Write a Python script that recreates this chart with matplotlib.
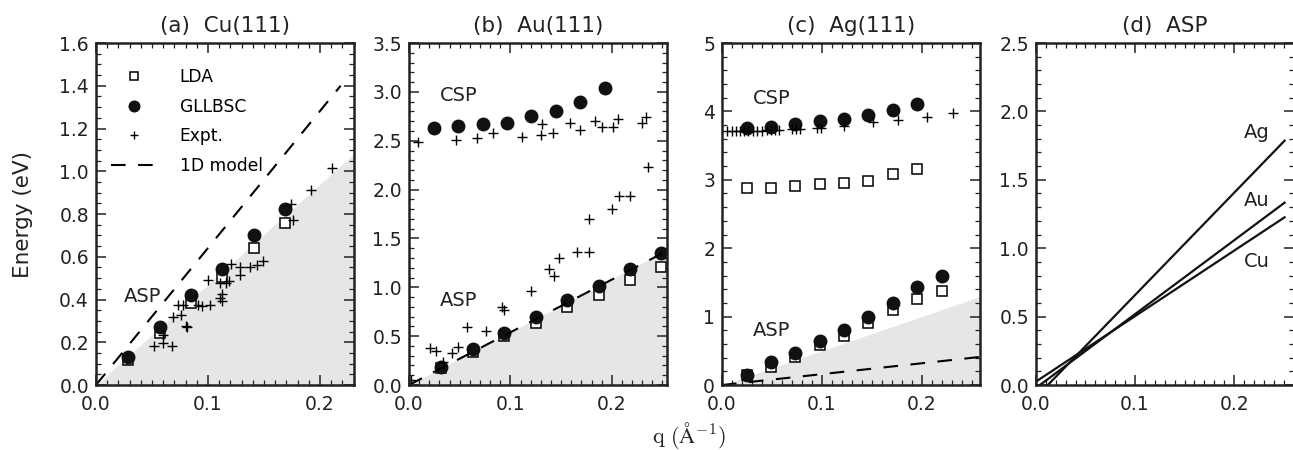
import matplotlib
matplotlib.use('Agg')
from matplotlib import pyplot as plt
from matplotlib.ticker import MultipleLocator
import numpy as np

# ---- (a) Cu(111) ----
CU_Q = [0.029, 0.057, 0.085, 0.113, 0.141, 0.169]
CU_LDA = [0.117, 0.242, 0.382, 0.507, 0.643, 0.760]
CU_GLLBSC = [0.133, 0.273, 0.423, 0.544, 0.702, 0.822]
CU_EXPT_Q = [0.052, 0.0595, 0.068, 0.0595, 0.0685, 0.076, 0.080, 0.081, 0.073, 0.078,
             0.091, 0.095, 0.102, 0.0997, 0.111, 0.1125, 0.113, 0.116, 0.119, 0.111,
             0.121, 0.129, 0.129, 0.1375, 0.1435, 0.149, 0.174, 0.176, 0.192, 0.211]
CU_EXPT_E = [0.182, 0.198, 0.182, 0.234, 0.320, 0.327, 0.276, 0.270, 0.374, 0.374,
             0.374, 0.370, 0.374, 0.491, 0.405, 0.393, 0.426, 0.476, 0.485, 0.476,
             0.565, 0.554, 0.515, 0.554, 0.561, 0.580, 0.847, 0.772, 0.912, 1.014]
CU_MODEL_Q = [0.0, 0.2185]
CU_MODEL_E = [0.0, 1.40]
CU_SHADE_Q = [0.0, 0.23]
CU_SHADE_E = [0.0, 1.08]

# ---- (b) Au(111) ----
AU_CSP_Q = [0.0245, 0.0487, 0.0728, 0.0967, 0.1205, 0.145, 0.169, 0.193]
AU_CSP_GLLBSC = [2.634, 2.651, 2.675, 2.682, 2.750, 2.805, 2.897, 3.037]
AU_ASP_Q = [0.0315, 0.0636, 0.0934, 0.125, 0.156, 0.187, 0.2175, 0.249]
AU_ASP_GLLBSC = [0.187, 0.365, 0.528, 0.692, 0.869, 1.016, 1.183, 1.346]
AU_ASP_LDA = [0.170, 0.341, 0.501, 0.637, 0.801, 0.920, 1.073, 1.210]
AU_EXPT_Q = [0.009, 0.046, 0.0666, 0.0828, 0.1116, 0.131, 0.130, 0.142, 0.159, 0.169,
             0.183, 0.190, 0.201, 0.206, 0.230, 0.234, 0.236,
             0.0023, 0.0205, 0.0265, 0.0338, 0.042, 0.048, 0.0576, 0.0755, 0.0917, 0.094,
             0.120, 0.138, 0.143, 0.148, 0.166, 0.178, 0.178, 0.200, 0.207, 0.2175]
AU_EXPT_E = [2.488, 2.505, 2.532, 2.580, 2.539, 2.668, 2.556, 2.580, 2.685, 2.607,
             2.702, 2.641, 2.641, 2.726, 2.682, 2.745, 2.232,
             0.05, 0.375, 0.351, 0.238, 0.330, 0.392, 0.596, 0.552, 0.801, 0.767,
             0.964, 1.183, 1.114, 1.305, 1.363, 1.363, 1.704, 1.806, 1.932, 1.932]
AU_MODEL_Q = [0.0, 0.254]
AU_MODEL_E = [0.0, 1.37]
AU_SHADE_Q = [0.0, 0.254]
AU_SHADE_E = [0.0, 1.38]

# ---- (c) Ag(111) ----
AG_Q = [0.0251, 0.0495, 0.0736, 0.098, 0.122, 0.1465, 0.171, 0.195]
AG_CSP_GLLBSC = [3.758, 3.773, 3.822, 3.856, 3.895, 3.944, 4.026, 4.114]
AG_CSP_LDA = [2.887, 2.887, 2.911, 2.936, 2.960, 2.985, 3.092, 3.165]
AG_ASP_Q = [0.0251, 0.0495, 0.0736, 0.098, 0.122, 0.1465, 0.171, 0.195, 0.220]
AG_ASP_GLLBSC = [0.146, 0.341, 0.463, 0.648, 0.803, 0.998, 1.203, 1.436, 1.592]
AG_ASP_LDA = [0.150, 0.268, 0.414, 0.584, 0.716, 0.910, 1.095, 1.251, 1.378]
AG_EXPT_Q = [0.005, 0.010, 0.014, 0.018, 0.022, 0.026, 0.031, 0.035, 0.040, 0.045,
             0.049, 0.053, 0.057, 0.070, 0.074, 0.078, 0.095, 0.099, 0.122, 0.151,
             0.176, 0.205, 0.231]
AG_EXPT_E = [3.71, 3.71, 3.71, 3.71, 3.72, 3.72, 3.72, 3.72, 3.72, 3.73,
             3.73, 3.73, 3.73, 3.74, 3.74, 3.75, 3.76, 3.76, 3.79, 3.84,
             3.88, 3.92, 3.98]
AG_MODEL_Q = [0.0, 0.258]
AG_MODEL_E = [0.0, 0.41]
AG_SHADE_Q = [0.0, 0.258]
AG_SHADE_E = [0.0, 1.29]

# ---- (d) ASP dispersions ----
D_AG_Q = [0.012, 0.251]
D_AG_E = [0.0, 1.786]
D_AU_Q = [0.004, 0.251]
D_AU_E = [0.0, 1.333]
D_CU_Q = [0.0, 0.251]
D_CU_E = [0.025, 1.226]

plt.rcParams['mathtext.fontset'] = 'cm'
plt.rcParams['font.family'] = 'DejaVu Sans'

shade = '#e6e6e8'
txt = '#222222'
dash = (0, (7, 6))

fig = plt.figure(figsize=(12.93, 4.5), dpi=100)
lefts = [0.0742, 0.3163, 0.5584, 0.8012]
axes = [fig.add_axes([l, 0.1444, 0.1992, 0.76]) for l in lefts]
ax_a, ax_b, ax_c, ax_d = axes

sq = dict(marker='s', ms=7.6, mfc='white', mec='black', mew=1.1, ls='none')
ci = dict(marker='o', ms=9, mfc='#111111', mec='#111111', ls='none')
cr = dict(marker='+', ms=7.5, mec='black', mew=1.0, ls='none')

# (a)
ax_a.fill_between(CU_SHADE_Q, 0, CU_SHADE_E, color=shade, lw=0)
ax_a.plot(CU_Q, CU_LDA, label='LDA', **sq)
ax_a.plot(CU_Q, CU_GLLBSC, label='GLLBSC', **ci)
ax_a.plot(CU_EXPT_Q, CU_EXPT_E, label='Expt.', **cr)
ax_a.plot(CU_MODEL_Q, CU_MODEL_E, color='black', lw=1.5, ls=dash, label='1D model')
ax_a.text(0.042, 0.416, 'ASP', fontsize=14, ha='center', va='center', color=txt)
ax_a.set_xlim(0, 0.23)
ax_a.set_ylim(0, 1.6)
ax_a.yaxis.set_major_locator(MultipleLocator(0.2))
ax_a.yaxis.set_minor_locator(MultipleLocator(0.05))
ax_a.legend(loc='upper left', bbox_to_anchor=(0.0, 0.972), frameon=False, fontsize=12.3,
            handlelength=2.65, handletextpad=1.35, labelspacing=0.68, numpoints=1,
            markerscale=0.85)
ax_a.set_ylabel('Energy (eV)', fontsize=15.5, color=txt, labelpad=19)
ax_a.set_title('(a)  Cu(111)', fontsize=15.5, color=txt, pad=8)

# (b)
ax_b.fill_between(AU_SHADE_Q, 0, AU_SHADE_E, color=shade, lw=0)
ax_b.plot(AU_ASP_Q, AU_ASP_LDA, **sq)
ax_b.plot(AU_CSP_Q, AU_CSP_GLLBSC, **ci)
ax_b.plot(AU_ASP_Q, AU_ASP_GLLBSC, **ci)
ax_b.plot(AU_EXPT_Q, AU_EXPT_E, **cr)
ax_b.plot(AU_MODEL_Q, AU_MODEL_E, color='black', lw=1.5, ls=dash)
ax_b.text(0.0487, 2.965, 'CSP', fontsize=14, ha='center', va='center', color=txt)
ax_b.text(0.0487, 0.869, 'ASP', fontsize=14, ha='center', va='center', color=txt)
ax_b.set_xlim(0, 0.254)
ax_b.set_ylim(0, 3.5)
ax_b.yaxis.set_major_locator(MultipleLocator(0.5))
ax_b.yaxis.set_minor_locator(MultipleLocator(0.1))
ax_b.set_title('(b)  Au(111)', fontsize=15.5, color=txt, pad=8)

# (c)
ax_c.fill_between(AG_SHADE_Q, 0, AG_SHADE_E, color=shade, lw=0)
ax_c.plot(AG_Q, AG_CSP_LDA, **sq)
ax_c.plot(AG_ASP_Q, AG_ASP_LDA, **sq)
ax_c.plot(AG_Q, AG_CSP_GLLBSC, **ci)
ax_c.plot(AG_ASP_Q, AG_ASP_GLLBSC, **ci)
ax_c.plot(AG_EXPT_Q, AG_EXPT_E, **cr)
ax_c.plot(AG_MODEL_Q, AG_MODEL_E, color='black', lw=1.5, ls=dash)
ax_c.text(0.0495, 4.19, 'CSP', fontsize=14, ha='center', va='center', color=txt)
ax_c.text(0.0495, 0.80, 'ASP', fontsize=14, ha='center', va='center', color=txt)
ax_c.set_xlim(0, 0.258)
ax_c.set_ylim(0, 5)
ax_c.yaxis.set_major_locator(MultipleLocator(1))
ax_c.yaxis.set_minor_locator(MultipleLocator(0.2))
ax_c.set_title('(c)  Ag(111)', fontsize=15.5, color=txt, pad=8)

# (d)
ax_d.plot(D_AG_Q, D_AG_E, color='#111111', lw=1.6)
ax_d.plot(D_AU_Q, D_AU_E, color='#111111', lw=1.6)
ax_d.plot(D_CU_Q, D_CU_E, color='#111111', lw=1.6)
ax_d.text(0.223, 1.844, 'Ag', fontsize=14, ha='center', va='center', color=txt)
ax_d.text(0.223, 1.352, 'Au', fontsize=14, ha='center', va='center', color=txt)
ax_d.text(0.223, 0.901, 'Cu', fontsize=14, ha='center', va='center', color=txt)
ax_d.set_xlim(0, 0.26)
ax_d.set_ylim(0, 2.5)
ax_d.yaxis.set_major_locator(MultipleLocator(0.5))
ax_d.yaxis.set_minor_locator(MultipleLocator(0.1))
ax_d.set_title('(d)  ASP', fontsize=15.5, color=txt, pad=8)

for ax in axes:
    ax.xaxis.set_major_locator(MultipleLocator(0.1))
    ax.xaxis.set_minor_locator(MultipleLocator(0.01))
    ax.tick_params(which='both', direction='in', top=True, right=True, color='#222222')
    ax.tick_params(which='major', length=7, width=1.1, labelsize=13.5, labelcolor=txt)
    ax.tick_params(axis='y', which='major', pad=5)
    ax.tick_params(axis='x', which='major', pad=7.5)
    ax.tick_params(which='minor', length=3.5, width=0.9)
    for s in ax.spines.values():
        s.set_linewidth(1.8)
        s.set_color('#222222')

fig.text(0.533, 0.033, r'$\mathrm{q\ (\AA^{-1})}$', fontsize=16, ha='center', va='center', color=txt)

fig.savefig('out.png', dpi=100)
